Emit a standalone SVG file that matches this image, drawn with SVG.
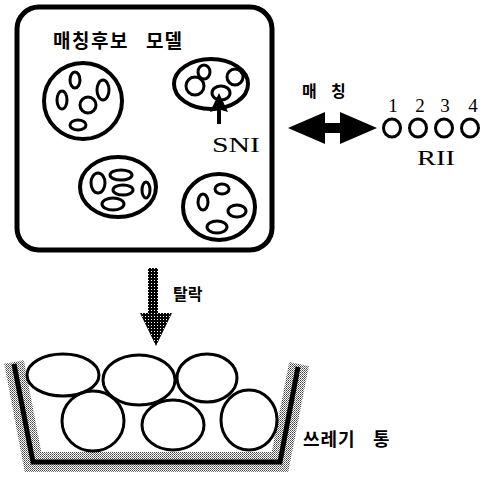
<svg xmlns="http://www.w3.org/2000/svg" width="486" height="478" viewBox="0 0 486 478">
<style>
.ko{font-family:"Noto Sans CJK KR","Noto Sans",sans-serif;font-weight:bold;fill:#000}
.sf{font-family:"Liberation Serif",serif;fill:#000}
.big{fill:none;stroke:#000;stroke-width:4}
.sm{fill:none;stroke:#000;stroke-width:3}
</style>
<defs>
<pattern id="stip" width="2" height="2" patternUnits="userSpaceOnUse"><rect width="2" height="2" fill="#fff"/><rect width="1" height="1" fill="#444"/><rect x="1" y="1" width="1" height="1" fill="#777"/></pattern>
<pattern id="dark" width="3" height="3" patternUnits="userSpaceOnUse"><rect width="3" height="3" fill="#000"/><rect x="1" y="1" width="1" height="1" fill="#fff"/></pattern>
</defs>
<rect width="486" height="478" fill="#fff"/>

<g id="candidate-box">
<rect x="17" y="7" width="255" height="243" rx="22" fill="none" stroke="#000" stroke-width="5"/>
<text class="ko" x="53" y="48" font-size="19" letter-spacing="1.5">매칭후보</text>
<text class="ko" x="146" y="48" font-size="19" letter-spacing="1">모델</text>
</g>

<g id="model-1">
<ellipse class="big" cx="83" cy="101" rx="39" ry="38"/>
<ellipse class="sm" cx="75" cy="80" rx="5" ry="8"/>
<ellipse class="sm" cx="62" cy="100" rx="5" ry="9"/>
<ellipse class="sm" cx="88" cy="105" rx="8" ry="8"/>
<ellipse class="sm" cx="103" cy="90" rx="6" ry="10"/>
<ellipse class="sm" cx="78" cy="125" rx="8" ry="5"/>
</g>

<g id="model-2">
<ellipse class="big" cx="211" cy="84" rx="37" ry="25"/>
<ellipse class="sm" cx="204" cy="72" rx="6" ry="7"/>
<ellipse class="sm" cx="195" cy="86" rx="9" ry="9"/>
<ellipse class="sm" cx="235" cy="77" rx="8" ry="8"/>
<ellipse class="sm" cx="221" cy="93" rx="9" ry="7"/>
</g>

<g id="model-3">
<ellipse class="big" cx="118" cy="187" rx="38" ry="30"/>
<ellipse class="sm" cx="98" cy="183" rx="7" ry="10"/>
<ellipse class="sm" cx="121" cy="175" rx="11" ry="5"/>
<ellipse class="sm" cx="123" cy="190" rx="10" ry="5"/>
<ellipse class="sm" cx="146" cy="190" rx="4" ry="8"/>
<ellipse class="sm" cx="113" cy="204" rx="11" ry="6"/>
</g>

<g id="model-4">
<ellipse class="big" cx="219" cy="207" rx="36" ry="33"/>
<ellipse class="sm" cx="222" cy="189" rx="7" ry="5"/>
<ellipse class="sm" cx="203" cy="202" rx="5" ry="8"/>
<ellipse class="sm" cx="237" cy="211" rx="9" ry="6"/>
<ellipse class="sm" cx="217" cy="227" rx="10" ry="6"/>
</g>

<g id="sni">
<text class="sf" x="212" y="152" font-size="22" textLength="48" lengthAdjust="spacingAndGlyphs">SNI</text>
</g>

<g id="rii">
<ellipse class="sm" cx="392" cy="128" rx="8.5" ry="9"/>
<ellipse class="sm" cx="418" cy="128" rx="8.5" ry="9"/>
<ellipse class="sm" cx="444" cy="128" rx="8.5" ry="9"/>
<ellipse class="sm" cx="470" cy="128" rx="8.5" ry="9"/>
<text class="sf" font-size="19" text-anchor="middle" y="112"><tspan x="393">1</tspan><tspan x="420">2</tspan><tspan x="445">3</tspan><tspan x="473">4</tspan></text>
<text class="sf" x="417" y="165" font-size="22" textLength="38" lengthAdjust="spacingAndGlyphs">RII</text>
</g>

<g id="trash-bin">
<path d="M14,362 L33,462 L280,462 L299,364" fill="none" stroke="url(#stip)" stroke-width="20" stroke-linejoin="miter"/>
<path d="M14,364 L33,462 L280,462 L298,367" fill="none" stroke="#000" stroke-width="5" stroke-linejoin="miter"/>
<ellipse class="sm" cx="63" cy="375" rx="36" ry="21"/>
<ellipse class="sm" cx="139" cy="380" rx="36" ry="25"/>
<ellipse class="sm" cx="207" cy="378" rx="30" ry="24"/>
<ellipse class="sm" cx="93" cy="421" rx="31" ry="30"/>
<ellipse class="sm" cx="173" cy="425" rx="31" ry="25"/>
<ellipse class="sm" cx="249" cy="420" rx="28" ry="30"/>
<text class="ko" x="303" y="446" font-size="18" letter-spacing="1">쓰레기</text>
<text class="ko" x="373" y="446" font-size="18">통</text>
</g>

<g id="connectors">
<path d="M219,93 L228,112 L221,110 L221,124 L217,124 L217,110 L210,112 Z" fill="#000"/>
<polygon points="288,128 325,112 325,123 340,123 340,112 377,128 340,144 340,133 325,133 325,144" fill="#000"/>
<text class="ko" x="302" y="97" font-size="16">매</text>
<text class="ko" x="331" y="97" font-size="16">칭</text>
<polygon points="148,268 158,268 158,313 172,313 156,346 140,313 148,313" fill="url(#dark)"/>
<text class="ko" x="173" y="300" font-size="16">탈락</text>
</g>
</svg>
